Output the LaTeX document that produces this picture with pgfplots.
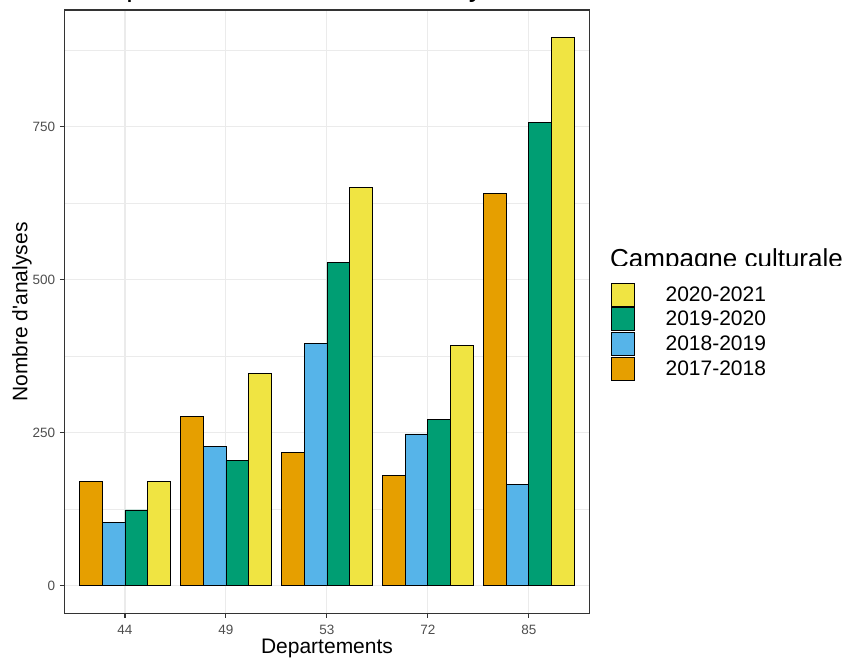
\documentclass[border=0pt]{standalone}
\usepackage{pgfplots}
\pgfplotsset{compat=1.18}
\usepackage{fontspec}
\setmainfont{Liberation Sans}
\definecolor{cOr}{HTML}{E69F00}
\definecolor{cBl}{HTML}{56B4E9}
\definecolor{cGr}{HTML}{009E73}
\definecolor{cYe}{HTML}{F0E442}
\definecolor{gridc}{HTML}{EBEBEB}
\definecolor{tickc}{HTML}{4D4D4D}
\definecolor{borderc}{HTML}{333333}
\pgfplotsset{barleg/.style={legend image code/.code={\draw[##1,line width=0.8pt] (0pt,-11.5pt) rectangle (23pt,11.5pt);}}}
\begin{document}
\begin{tikzpicture}[x=1pt,y=1pt]
\begin{axis}[
 at={(64.4pt,45.7pt)}, anchor=south west,
 scale only axis, width=525pt, height=603.3pt,
 xmin=0.4, xmax=5.6, ymin=-44.8, ymax=940.3,
 ybar, bar width=0.225,
 xtick={1,2,3,4,5}, xticklabels={44,49,53,72,85},
 ytick={0,250,500,750}, minor ytick={125,375,625,875},
 grid=both,
 major grid style={gridc, line width=1.1pt},
 minor grid style={gridc, line width=0.55pt},
 axis line style={borderc, line width=1.1pt},
 tick align=outside, xtick pos=bottom, ytick pos=left,
 major tick length=4.5pt, minor tick length=0pt,
 tick style={borderc, line width=1.1pt},
 ticklabel style={font=\fontsize{13.5}{16}\selectfont, color=tickc},
 /pgf/number format/assume math mode=true,
 xticklabel style={inner sep=0pt, yshift=-7pt},
 yticklabel style={inner sep=0pt, xshift=-4.5pt},
 legend style={at={(axis description cs:1.0408,0.548)}, anchor=north west,
   draw=none, fill=none, inner sep=0pt, outer sep=0pt, row sep=1pt, column sep=31pt,
   nodes={inner sep=0pt, anchor=west, font=\fontsize{21}{24}\selectfont, text=black}},
 reverse legend,
]
\addplot[barleg, fill=cOr, draw=black, line width=0.8pt, bar shift=-0.3375] coordinates {(1,170) (2,277) (3,218) (4,181) (5,641)};
\addlegendentry{2017-2018}
\addplot[barleg, fill=cBl, draw=black, line width=0.8pt, bar shift=-0.1125] coordinates {(1,104) (2,227) (3,396) (4,248) (5,166)};
\addlegendentry{2018-2019}
\addplot[barleg, fill=cGr, draw=black, line width=0.8pt, bar shift=0.1125] coordinates {(1,124) (2,205) (3,528) (4,272) (5,757)};
\addlegendentry{2019-2020}
\addplot[barleg, fill=cYe, draw=black, line width=0.8pt, bar shift=0.3375] coordinates {(1,171) (2,347) (3,650) (4,393) (5,895)};
\addlegendentry{2020-2021}
\end{axis}
\node[anchor=base west, inner sep=0pt] at (65pt,662pt) {\fontsize{29}{34}\selectfont Comparaison du nombre d\textquotesingle analyses};
\begin{scope}
\clip (600pt,393.5pt) rectangle (847pt,430pt);
\node[anchor=base west, inner sep=0pt] at (610pt,391.5pt) {\fontsize{26}{30}\selectfont Campagne culturale};
\end{scope}
\node[rotate=90, inner sep=0pt] at (22pt,347pt) {\fontsize{21}{24}\selectfont Nombre d\textquotesingle analyses};
\node[anchor=base, inner sep=0pt] at (327pt,5pt) {\fontsize{21}{24}\selectfont Departements};
\pgfresetboundingbox
\useasboundingbox (0pt,0pt) rectangle (847pt,659pt);
\end{tikzpicture}
\end{document}
